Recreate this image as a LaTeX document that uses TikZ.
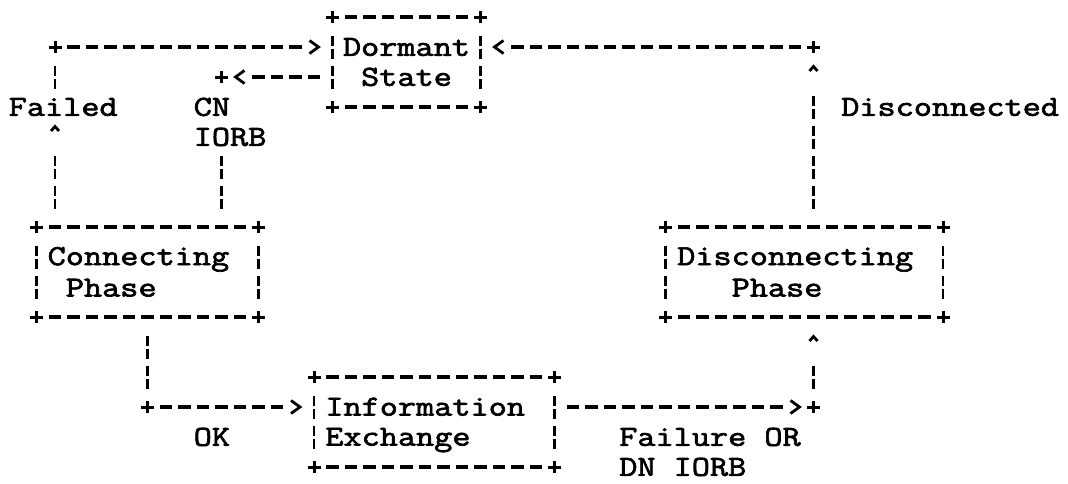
\documentclass[tikz,border=0pt]{standalone}
\usepackage{fontspec}
\newfontfamily\asc{Latin Modern Mono}[FakeStretch=1.2151, FakeBold=2.4]
\usetikzlibrary{calc}
\newcommand\cellstrut{\rule[-6.2pt]{0pt}{30pt}}
\tikzset{
  txt/.style={font=\asc\fontsize{29}{30}\selectfont, inner sep=0pt, outer sep=0pt, align=left, anchor=north west},
  box/.style={font=\asc\fontsize{29}{30}\selectfont, inner sep=0pt, outer sep=0pt, minimum height=90pt, align=left},
  hl/.style={line width=3.3pt, dash pattern=on 12.5pt off 6pt, shorten <=12.25pt, shorten >=12.25pt},
  vl/.style={line width=2.5pt, dash pattern=on 10pt off 3pt on 10pt off 7pt, shorten <=18.5pt, shorten >=18.5pt},
  pl/.style={line width=3pt},
  chev/.style={line width=2.8pt}
}
\newcommand\plusat[1]{\draw[pl] ($(#1)+(-6.5pt,0pt)$) -- ($(#1)+(6.5pt,0pt)$) ($(#1)+(0pt,-6pt)$) -- ($(#1)+(0pt,6pt)$);}
\newcommand\rarrowat[1]{\draw[chev] ($(#1)+(-4.5pt,6.5pt)$) -- ($(#1)+(4.5pt,0pt)$) -- ($(#1)+(-4.5pt,-6.5pt)$);}
\newcommand\larrowat[1]{\draw[chev] ($(#1)+(4.5pt,6.5pt)$) -- ($(#1)+(-4.5pt,0pt)$) -- ($(#1)+(4.5pt,-6.5pt)$);}
\newcommand\uarrowat[1]{\draw[chev] ($(#1)+(-4pt,6pt)$) -- ($(#1)+(0pt,10.5pt)$) -- ($(#1)+(4pt,6pt)$);}
\begin{document}
\begin{tikzpicture}[x=18.5pt, y=-30pt]
\path[use as bounding box, fill=white] (-0.973,-0.567) rectangle (56.757,15.566);

% boxes
\node[box, minimum width=148pt, align=center] (dormant) at (21,1.5) {\cellstrut Dormant\\\cellstrut State};
\node[box, minimum width=222pt] (conn) at (7,8.5) {\cellstrut Connecting\hphantom{x}\\\cellstrut\hphantom{x}Phase};
\node[box, minimum width=277.5pt] (disc) at (42.5,8.5) {\cellstrut Disconnecting\hphantom{x}\\\cellstrut\hphantom{xxx}Phase};
\node[box, minimum width=240.5pt] (info) at (22.5,13.5) {\cellstrut Information\hphantom{x}\\\cellstrut Exchange};

\foreach \b in {dormant,conn,disc,info}{
  \draw[hl] (\b.north west) -- (\b.north east);
  \draw[hl] (\b.south west) -- (\b.south east);
  \draw[vl] (\b.north west) -- (\b.south west);
  \draw[vl] (\b.north east) -- (\b.south east);
  \plusat{\b.north west}
  \plusat{\b.north east}
  \plusat{\b.south west}
  \plusat{\b.south east}
}

% labels
\node[txt] (failed) at (-0.5,2.5) {\cellstrut Failed};
\node[txt] (cn) at (9.5,2.5) {\cellstrut CN\\\cellstrut IORB};
\node[txt] (discd) at (44.5,2.5) {\cellstrut Disconnected};
\node[txt] (ok) at (9.5,13.5) {\cellstrut OK};
\node[txt] (fail) at (32.5,13.5) {\cellstrut Failure OR\\\cellstrut DN IORB};

% A: Connecting -> Dormant (Failed)
\coordinate (A1) at ($(conn.north west)+(1,0)$);
\coordinate (A2) at ($(A1)+(0,-3)$);
\coordinate (A3) at ($(A1)+(0,-6)$);
\coordinate (A4) at ($(dormant.west)+(-1,-0.5)$);
\draw[vl] (A1) -- (A2);
\uarrowat{A2}
\draw[vl] ($(A3)+(0,2)$) -- (A3);
\plusat{A3}
\draw[hl] (A3) -- (A4);
\rarrowat{A4}

% B: Dormant -> Connecting (CN IORB)
\coordinate (B0) at ($(dormant.west)+(0,0.5)$);
\coordinate (B1) at ($(B0)+(-5,0)$);
\coordinate (B2) at ($(B0)+(-6,0)$);
\coordinate (B3) at ($(conn.north west)+(10,0)$);
\draw[hl] (B0) -- (B1);
\larrowat{B1}
\plusat{B2}
\draw[vl] ($(B3)+(0,-3)$) -- (B3);

% C: Disconnecting -> Dormant (Disconnected)
\coordinate (C0) at ($(disc.north west)+(8,0)$);
\coordinate (C1) at ($(C0)+(0,-5)$);
\coordinate (C2) at ($(C0)+(0,-6)$);
\coordinate (C3) at ($(dormant.east)+(1,-0.5)$);
\draw[vl] (C0) -- (C1);
\uarrowat{C1}
\plusat{C2}
\draw[hl] (C2) -- (C3);
\larrowat{C3}

% D: Connecting -> Information Exchange (OK)
\coordinate (D0) at ($(conn.south west)+(6,0)$);
\coordinate (D1) at ($(D0)+(0,3)$);
\coordinate (D2) at ($(info.west)+(-1,-0.5)$);
\draw[vl] (D0) -- (D1);
\plusat{D1}
\draw[hl] (D1) -- (D2);
\rarrowat{D2}

% E: Information Exchange -> Disconnecting (Failure OR DN IORB)
\coordinate (E0) at ($(info.east)+(0,-0.5)$);
\coordinate (E1) at ($(E0)+(13,0)$);
\coordinate (E2) at ($(E0)+(14,0)$);
\coordinate (E3) at ($(disc.south west)+(8,1)$);
\draw[hl] (E0) -- (E1);
\rarrowat{E1}
\plusat{E2}
\draw[vl] (E2) -- (E3);
\uarrowat{E3}
\end{tikzpicture}
\end{document}
